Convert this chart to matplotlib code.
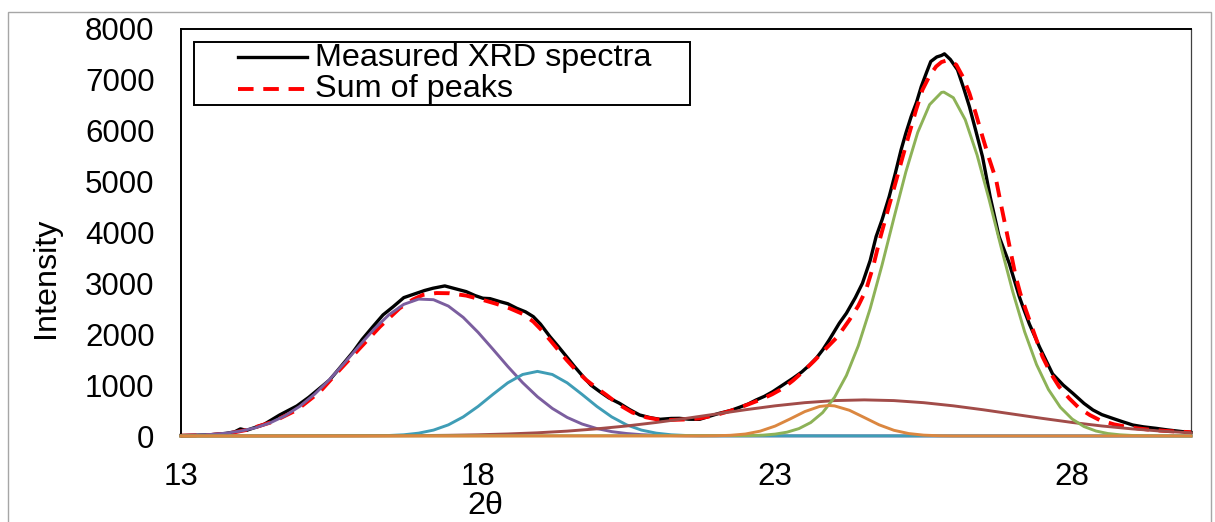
import matplotlib
matplotlib.use("Agg")
import matplotlib.pyplot as plt
from matplotlib.lines import Line2D
from matplotlib.patches import Rectangle

plt.rcParams['font.family'] = ['Liberation Sans', 'DejaVu Sans']

# Measured XRD spectrum
measured_x = [13.0, 13.25, 13.5, 13.75, 13.9, 14.0, 14.1, 14.4, 14.66, 14.95, 15.15, 15.34, 15.5, 15.62,
              15.9, 16.05, 16.23, 16.4, 16.57, 16.75, 16.95, 17.1, 17.24, 17.44, 17.6, 17.8, 17.95, 18.08,
              18.2, 18.37, 18.5, 18.65, 18.8, 18.93, 19.05, 19.21, 19.35, 19.49, 19.62, 19.77, 19.9, 20.05,
              20.2, 20.38, 20.55, 20.72, 20.9, 21.06, 21.25, 21.39, 21.55, 21.73, 21.9, 22.06, 22.25, 22.4,
              22.55, 22.68, 22.82, 22.96, 23.1, 23.3, 23.45, 23.58, 23.7, 23.8, 23.91, 24.08, 24.2, 24.35,
              24.47, 24.6, 24.7, 24.8, 24.92, 25.02, 25.12, 25.2, 25.29, 25.38, 25.46, 25.55, 25.62, 25.72,
              25.8, 25.85, 25.95, 26.07, 26.17, 26.27, 26.38, 26.49, 26.62, 26.77, 26.94, 27.11, 27.19,
              27.28, 27.45, 27.67, 27.85, 28.01, 28.2, 28.35, 28.5, 28.68, 28.85, 29.02, 29.2, 29.41, 29.6,
              29.86, 30.0]
measured_y = [10, 15, 25, 50, 80, 140, 110, 230, 413, 590, 760, 944, 1100, 1265,
              1658, 1900, 2150, 2380, 2540, 2720, 2800, 2860, 2904, 2950, 2900, 2838, 2760, 2708,
              2700, 2641, 2600, 2511, 2440, 2346, 2200, 1953, 1760, 1559, 1370, 1166, 1000, 871,
              750, 643, 520, 413, 360, 328, 345, 347, 330, 328, 390, 446, 500, 564,
              630, 708, 780, 871, 980, 1134, 1260, 1396, 1540, 1691, 1888, 2216, 2413, 2720,
              3003, 3450, 3920, 4250, 4706, 5150, 5624, 5950, 6279, 6560, 6869, 7150, 7361, 7450,
              7480, 7512, 7400, 7198, 6850, 6476, 5990, 5493, 4700, 3920, 3396, 2739, 2478,
              2200, 1750, 1220, 1000, 840, 640, 511, 420, 347, 280, 216, 180, 151, 120,
              85, 70]

# Sum of fitted peaks
sum_x = [13.0, 13.5, 13.8, 14.1, 14.55, 14.95, 15.34, 15.67, 16.01, 16.35, 16.68, 16.9, 17.07, 17.3,
         17.52, 17.8, 18.08, 18.3, 18.53, 18.75, 18.93, 19.07, 19.21, 19.35, 19.49, 19.65, 19.82, 20.0,
         20.16, 20.38, 20.6, 20.83, 21.0, 21.22, 21.5, 21.73, 22.0, 22.29, 22.5, 22.74, 22.95, 23.13,
         23.3, 23.47, 23.66, 23.86, 24.05, 24.25, 24.4, 24.53, 24.65, 24.76, 24.9, 25.04, 25.15, 25.26,
         25.37, 25.48, 25.6, 25.71, 25.8, 25.88, 25.97, 26.05, 26.16, 26.27, 26.38, 26.49, 26.6, 26.72,
         26.8, 26.89, 26.97, 27.05, 27.13, 27.22, 27.35, 27.5, 27.64, 27.78, 27.95, 28.12, 28.3, 28.46,
         28.7, 28.9, 29.1, 29.35, 29.6, 29.8, 30.0]
sum_y = [5, 20, 50, 118, 281, 511, 871, 1298, 1725, 2150, 2511, 2680, 2773, 2810,
         2806, 2760, 2675, 2600, 2511, 2400, 2248, 2080, 1888, 1690, 1495, 1290, 1101, 940,
         806, 610, 460, 367, 330, 315, 325, 347, 410, 511, 600, 708, 820, 937,
         1090, 1265, 1480, 1725, 1950, 2281, 2560, 2871, 3330, 3855, 4450, 5034, 5500, 5952,
         6400, 6804, 7080, 7263, 7350, 7380, 7360, 7296, 7060, 6739, 6330, 5886, 5460, 5034,
         4560, 4051, 3590, 3133, 2790, 2478, 2050, 1560, 1230, 970, 740, 545, 410, 315,
         230, 184, 150, 118, 98, 85, 75]

# Individual peaks
purple_x = [13.0, 13.5, 13.75, 14.0, 14.25, 14.5, 14.75, 15.0, 15.25, 15.5, 15.75, 16.0, 16.25, 16.5,
            16.75, 17.0, 17.25, 17.5, 17.75, 18.0, 18.25, 18.5, 18.75, 19.0, 19.25, 19.5, 19.75, 20.0,
            20.25, 20.5, 20.75, 21.0, 21.5, 30.0]
purple_y = [8, 30, 55, 96, 161, 258, 397, 584, 823, 1110, 1434, 1774, 2101, 2383,
            2588, 2691, 2679, 2554, 2332, 2038, 1706, 1367, 1049, 771, 542, 365, 236, 146,
            86, 49, 26, 14, 3, 0]

teal_x = [13.0, 16.5, 16.75, 17.0, 17.25, 17.5, 17.75, 18.0, 18.25, 18.5, 18.75, 19.0, 19.25, 19.5,
          19.75, 20.0, 20.25, 20.5, 20.75, 21.0, 21.25, 21.5, 21.75, 30.0]
teal_y = [0, 10, 24, 56, 116, 219, 375, 581, 818, 1045, 1209, 1270, 1209, 1045,
          818, 581, 375, 219, 116, 56, 24, 10, 3, 0]

brown_x = [13.0, 14.0, 15.0, 16.0, 17.0, 17.5, 18.0, 18.5, 19.0, 19.5, 20.0, 20.5, 21.0, 21.5, 22.0,
           22.5, 23.0, 23.5, 24.0, 24.5, 25.0, 25.5, 26.0, 26.5, 27.0, 27.5, 28.0, 28.5, 29.0, 29.5, 30.0]
brown_y = [0, 0, 1, 2, 8, 14, 24, 40, 63, 96, 141, 197, 266, 346, 431,
           516, 593, 655, 696, 710, 696, 655, 593, 516, 431, 346, 266, 197, 141, 96, 63]

orange_x = [13.0, 21.75, 22.0, 22.25, 22.5, 22.75, 23.0, 23.25, 23.5, 23.75, 23.9, 24.0, 24.25, 24.5,
            24.75, 25.0, 25.25, 25.5, 25.75, 26.0, 30.0]
orange_y = [0, 1, 4, 14, 39, 96, 195, 334, 480, 581, 600, 592, 506, 364,
            220, 112, 48, 17, 5, 1, 0]

green_x = [13.0, 22.6, 22.8, 23.0, 23.2, 23.4, 23.6, 23.8, 24.0, 24.2, 24.4, 24.6, 24.8, 25.0, 25.2,
           25.4, 25.6, 25.8, 25.84, 26.0, 26.2, 26.4, 26.6, 26.8, 27.0, 27.2, 27.4, 27.6, 27.8, 28.0,
           28.2, 28.4, 28.6, 28.8, 29.0, 29.2, 30.0]
green_y = [0, 8, 17, 37, 75, 145, 265, 460, 760, 1190, 1772, 2505, 3362, 4287, 5189,
           5966, 6513, 6753, 6760, 6649, 6217, 5521, 4656, 3729, 2836, 2048, 1405, 915, 566, 333,
           185, 98, 49, 24, 11, 5, 0]

x_ticks = [13, 18, 23, 28]
y_ticks = [0, 1000, 2000, 3000, 4000, 5000, 6000, 7000, 8000]
legend_labels = ["Measured XRD spectra", "Sum of peaks"]

W, H = 1215, 522
fig = plt.figure(figsize=(W / 100, H / 100), dpi=100)

# outer chart border
fig.patches.append(Rectangle((8 / W, -0.05), 1203 / W, 1.05 - 12 / H, transform=fig.transFigure,
                             fill=False, edgecolor='#A6A6A6', linewidth=1.0))

ax = fig.add_axes([181 / W, (H - 436) / H, 1010 / W, 407 / H])

ax.plot(measured_x, measured_y, color='black', lw=2.4, clip_on=False, zorder=3)
ax.plot(sum_x, sum_y, color='#FF0000', lw=2.8, dashes=(4.0, 2.5), clip_on=False, zorder=4)

peak_lw = 2.1
ax.plot(purple_x, purple_y, color='#7B5E9F', lw=peak_lw, clip_on=False, zorder=5)
ax.plot(teal_x, teal_y, color='#3F9DB6', lw=peak_lw, clip_on=False, zorder=5)
ax.plot(brown_x, brown_y, color='#A24C49', lw=peak_lw, clip_on=False, zorder=5)
ax.plot(green_x, green_y, color='#8DB257', lw=peak_lw, clip_on=False, zorder=5)
ax.plot(orange_x, orange_y, color='#DB8740', lw=peak_lw, clip_on=False, zorder=6)

ax.set_xlim(13, 30)
ax.set_ylim(0, 8000)
ax.set_xticks(x_ticks)
ax.set_yticks(y_ticks)
ax.tick_params(length=0, labelsize=22.5, pad=19)

for side in ['left', 'top', 'bottom']:
    ax.spines[side].set_color('black')
    ax.spines[side].set_linewidth(1.4)
ax.spines['right'].set_color('#404040')
ax.spines['right'].set_linewidth(0.9)

fig.text(46 / W, 1 - 278 / H, "Intensity", rotation=90, ha='center', va='center', fontsize=23.3)
fig.text(485 / W, 1 - 506 / H, "2θ", ha='center', va='center', fontsize=23.3)

# legend box drawn by hand to match the placement
lx0, ly0, lx1, ly1 = 194, 42, 690, 105
fig.patches.append(Rectangle((lx0 / W, 1 - ly1 / H), (lx1 - lx0) / W, (ly1 - ly0) / H,
                             transform=fig.transFigure, facecolor='white', edgecolor='black',
                             linewidth=1.4, zorder=10))
fig.lines.append(Line2D([238 / W, 307 / W], [1 - 57 / H, 1 - 57 / H], transform=fig.transFigure,
                        color='black', lw=2.4, zorder=11))
fig.lines.append(Line2D([238 / W, 307 / W], [1 - 89 / H, 1 - 89 / H], transform=fig.transFigure,
                        color='#FF0000', lw=2.8, dashes=(4.0, 2.5), zorder=11))
fig.text(315 / W, 1 - 58 / H, legend_labels[0], ha='left', va='center', fontsize=23.3, zorder=12)
fig.text(315 / W, 1 - 89 / H, legend_labels[1], ha='left', va='center', fontsize=23.3, zorder=12)

fig.savefig("out.png", dpi=100)
